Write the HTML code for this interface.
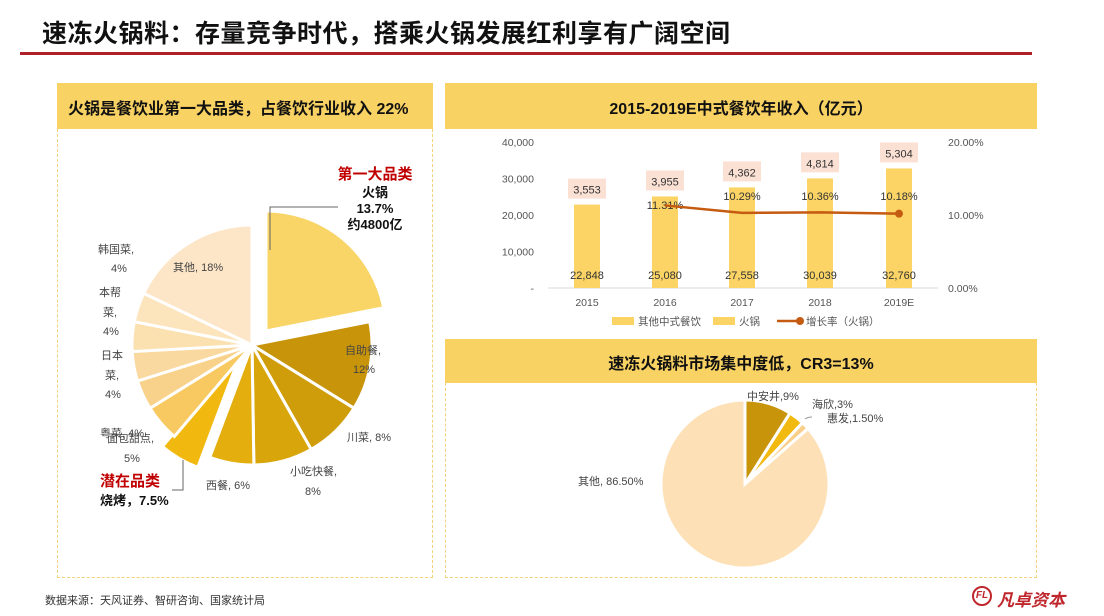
<!DOCTYPE html>
<html><head><meta charset="utf-8">
<style>
body{margin:0;width:1104px;height:616px;background:#fff;overflow:hidden;font-family:"Liberation Sans","Noto Sans CJK SC",sans-serif;position:relative}
.t{position:absolute;white-space:nowrap}
</style></head><body>
<div class="t" style="left:42px;top:14px;font-size:25px;font-weight:bold;color:#111;letter-spacing:0.5px">速冻火锅料：存量竞争时代，搭乘火锅发展红利享有广阔空间</div>
<div style="position:absolute;left:20px;top:52px;width:1012px;height:3px;background:#b0202a"></div>

<div style="position:absolute;left:57px;top:83px;width:376px;height:46px;background:#f9d264"></div>
<div style="position:absolute;left:57px;top:129px;width:374px;height:448px;border:1px dashed #f3d27a;border-top:none"></div>
<div class="t" style="left:68px;top:95px;font-size:16px;font-weight:bold;color:#111">火锅是餐饮业第一大品类，占餐饮行业收入 22%</div>

<div style="position:absolute;left:445px;top:83px;width:592px;height:46px;background:#f9d264"></div>
<div class="t" style="left:445px;width:592px;text-align:center;top:95px;font-size:16px;font-weight:bold;color:#111">2015-2019E中式餐饮年收入（亿元）</div>
<div style="position:absolute;left:445px;top:339px;width:592px;height:44px;background:#f9d264"></div>
<div class="t" style="left:445px;width:592px;text-align:center;top:350px;font-size:16px;font-weight:bold;color:#111">速冻火锅料市场集中度低，CR3=13%</div>
<div style="position:absolute;left:445px;top:383px;width:590px;height:194px;border:1px dashed #f3d27a;border-top:none"></div>

<svg id="s" width="1104" height="616" style="position:absolute;left:0;top:0" font-family="Liberation Sans, Noto Sans CJK SC, sans-serif"></svg>

<div class="t" style="left:45px;top:592px;font-size:11px;color:#333">数据来源：天风证券、智研咨询、国家统计局</div>
<div class="t" style="left:972px;top:586px;width:20px;height:20px;border:2px solid #c0272d;border-radius:50%;box-sizing:border-box;font-size:10px;font-weight:bold;color:#c0272d;text-align:center;line-height:16px;font-style:italic">FL</div>
<div class="t" style="left:997px;top:586px;font-size:17px;font-weight:bold;font-style:italic;color:#c0272d">凡卓资本</div>

<script>
const s=document.getElementById('s');let h='';
function P(cx,cy,r,a0,a1,fill,dx,dy){dx=dx||0;dy=dy||0;const f=a=>[cx+dx+r*Math.sin(a),cy+dy-r*Math.cos(a)];const p=f(a0),q=f(a1);const L=(a1-a0)>Math.PI?1:0;
return `<path d="M${cx+dx},${cy+dy}L${p[0]},${p[1]}A${r},${r} 0 ${L} 1 ${q[0]},${q[1]}Z" fill="${fill}" stroke="#fff" stroke-width="3"/>`;}
function T(x,y,t,o){o=o||{};return `<text x="${x}" y="${y}" font-size="${o.fs||11}" fill="${o.c||'#444'}" text-anchor="${o.a||'start'}" font-weight="${o.w||'normal'}">${t}</text>`;}
// left pie
const v=[22,12,8,8,6,5.5,5,4,4,4,4,18];
const c=['#f9d466','#c8940a','#d09d0a','#d8a60b','#e3ae0e','#f1b910','#f7c960','#f8d18a','#fad9a0','#fbe0b0','#fce4bc','#fde6c8'];
let tot=v.reduce((a,b)=>a+b),a=0;
for(let i=0;i<v.length;i++){const b=a+v[i]/tot*2*Math.PI;let dx=0,dy=0;if(i==0){dx=14;dy=-14}if(i==5){dx=-12;dy=10}
h+=P(252,345,120,a,b,c[i],dx,dy);a=b;}
h+=`<polyline points="270,250 270,207 338,207" fill="none" stroke="#666" stroke-width="1"/>`;
h+=`<polyline points="183,460 183,490 172,490" fill="none" stroke="#666" stroke-width="1"/>`;
h+=T(375,179,'第一大品类',{fs:15,c:'#c00000',w:'bold',a:'middle'});
h+=T(375,197,'火锅',{fs:13,c:'#111',w:'bold',a:'middle'});
h+=T(375,213,'13.7%',{fs:13,c:'#111',w:'bold',a:'middle'});
h+=T(375,229,'约4800亿',{fs:13,c:'#111',w:'bold',a:'middle'});
h+=T(173,271,'其他, 18%');h+=T(98,253,'韩国菜,');h+=T(111,272,'4%');
h+=T(99,296,'本帮');h+=T(103,316,'菜,');h+=T(103,335,'4%');
h+=T(101,359,'日本');h+=T(105,379,'菜,');h+=T(105,398,'4%');
h+=T(100,437,'粤菜, 4%');h+=T(107,442,'面包甜点,');h+=T(124,462,'5%');
h+=T(345,354,'自助餐,');h+=T(353,373,'12%');h+=T(347,441,'川菜, 8%');
h+=T(290,475,'小吃快餐,');h+=T(305,495,'8%');h+=T(206,489,'西餐, 6%');
h+=T(100,486,'潜在品类',{fs:15,c:'#c00000',w:'bold'});h+=T(100,505,'烧烤，7.5%',{fs:13,c:'#111',w:'bold'});
// bar chart
const Y=v=>288-v*146/40000;
['40,000','30,000','20,000','10,000','-'].forEach((t,i)=>{h+=T(534,146+i*36.5,t,{a:'end',fs:10.5,c:'#555'})});
['20.00%','10.00%','0.00%'].forEach((t,i)=>{h+=T(948,146+i*73,t,{fs:10.5,c:'#555'})});
h+=`<line x1="548" y1="288" x2="938" y2="288" stroke="#d9d9d9"/>`;
const xs=[587,665,742,820,899],oth=[22848,25080,27558,30039,32760],hg=['3,553','3,955','4,362','4,814','5,304'],yr=['2015','2016','2017','2018','2019E'],gr=[null,11.31,10.29,10.36,10.18];
xs.forEach((x,i)=>{const top=Y(oth[i]);h+=`<rect x="${x-13}" y="${top}" width="26" height="${288-top}" fill="#fbd465"/>`;
h+=`<rect x="${x-19}" y="${top-26}" width="38" height="20" fill="#fbe0d4"/>`;h+=T(x,top-11,hg[i],{a:'middle',fs:11,c:'#333'});
h+=T(x,279,oth[i].toLocaleString('en-US'),{a:'middle',fs:11,c:'#333'});h+=T(x,306,yr[i],{a:'middle',fs:10.5,c:'#555'});
if(gr[i])h+=T(x,(i==1?209:200),gr[i].toFixed(2)+'%',{a:'middle',fs:11,c:'#333'});});
let pts=xs.slice(1).map((x,i)=>x+','+(288-gr[i+1]*7.3)).join(' ');
h+=`<polyline points="${pts}" fill="none" stroke="#c55a11" stroke-width="2.5"/><circle cx="899" cy="${288-10.18*7.3}" r="4" fill="#c55a11"/>`;
h+=`<rect x="612" y="317" width="22" height="8" fill="#fbd465"/>`+T(638,325,'其他中式餐饮',{fs:10.5,c:'#555'});
h+=`<rect x="713" y="317" width="22" height="8" fill="#fbd465"/>`+T(739,325,'火锅',{fs:10.5,c:'#555'});
h+=`<line x1="777" y1="321" x2="803" y2="321" stroke="#c55a11" stroke-width="2.5"/><circle cx="800" cy="321" r="4" fill="#c55a11"/>`+T(806,325,'增长率（火锅）',{fs:10.5,c:'#555'});
// bottom pie
const v2=[9,3,1.5,86.5],c2=['#c8940a','#f2b90f','#f9cf8a','#fde0b5'];a=0;
v2.forEach((p,i)=>{const b=a+p/100*2*Math.PI;h+=P(745,484,84,a,b,c2[i]);a=b;});
h+=T(747,400,'中安井,9%');h+=T(812,408,'海欣,3%');h+=T(827,422,'惠发,1.50%');h+=T(578,485,'其他, 86.50%');
h+=`<path d="M805,419 Q808,417 812,417" fill="none" stroke="#999"/>`;
s.innerHTML=h;
</script>
</body></html>
